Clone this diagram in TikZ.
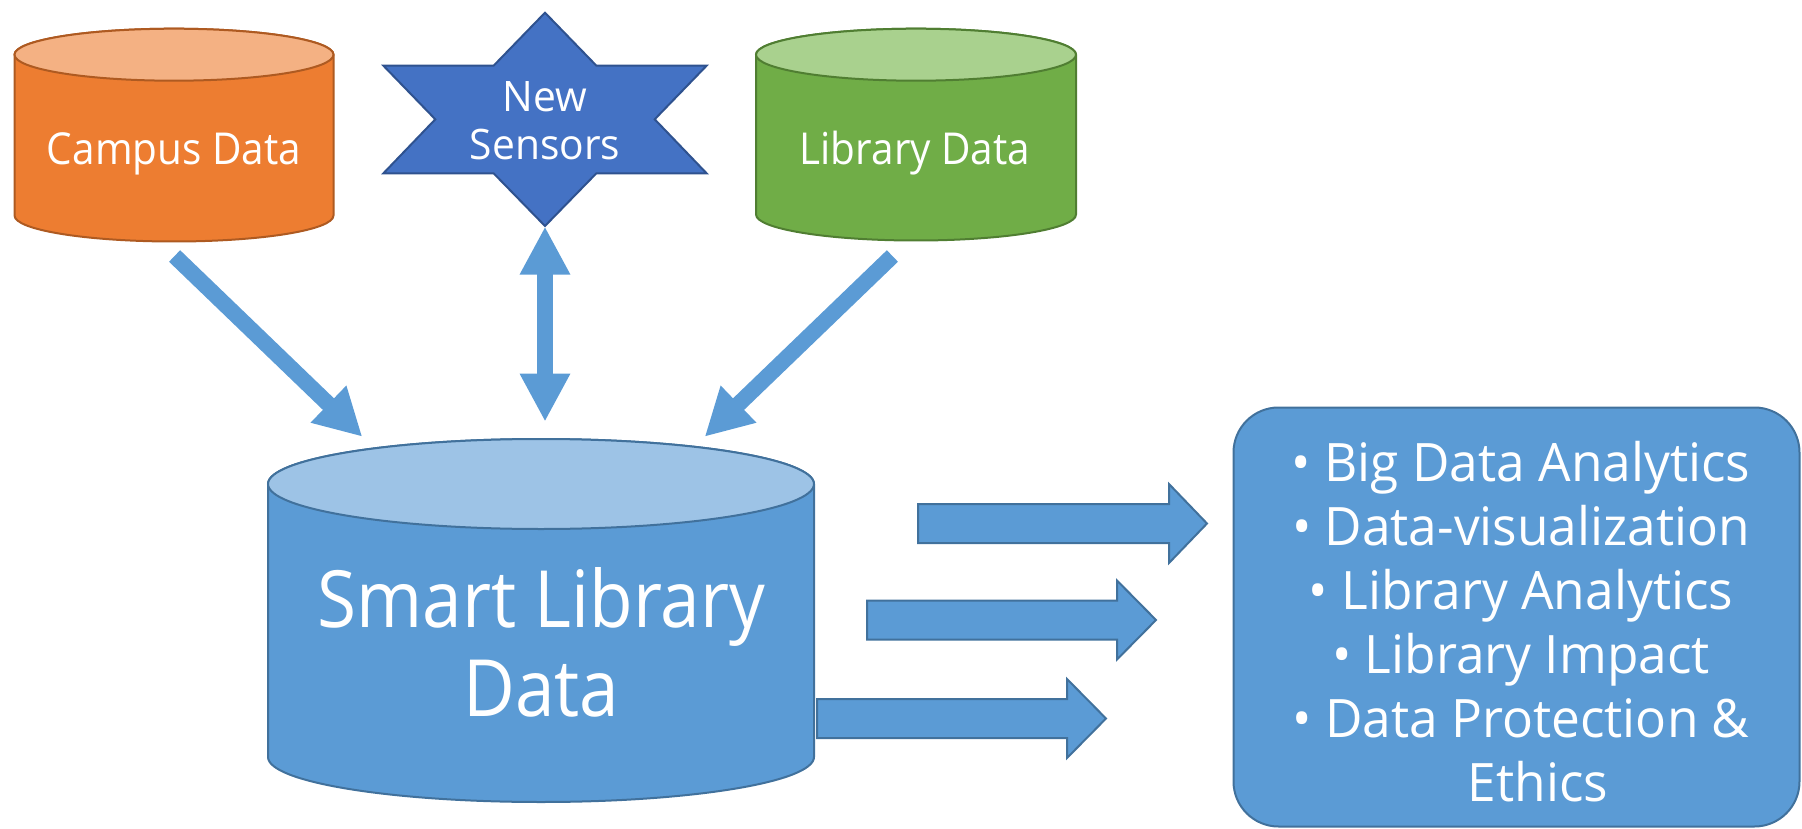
\documentclass[tikz,border=0pt]{standalone}
\usepackage{fontspec}
\setmainfont{Open Sans}[FakeStretch=0.9]
\newfontfamily\cylfont{Open Sans}[FakeStretch=0.92]
\newfontfamily\widefont{Open Sans}[FakeStretch=0.97]
\usetikzlibrary{arrows.meta}
\definecolor{orangeSide}{HTML}{ED7D31}
\definecolor{orangeTop}{HTML}{F4B183}
\definecolor{orangeLine}{HTML}{AE5A21}
\definecolor{greenSide}{HTML}{70AD47}
\definecolor{greenTop}{HTML}{A9D18E}
\definecolor{greenLine}{HTML}{507E32}
\definecolor{blueSide}{HTML}{5B9BD5}
\definecolor{blueTop}{HTML}{9DC3E6}
\definecolor{blueLine}{HTML}{41719C}
\definecolor{starFill}{HTML}{4472C4}
\definecolor{starLine}{HTML}{2F528F}
\newcommand{\drawcyl}[8]{%
  \filldraw[fill=#6, draw=#8, line width=2pt] (#1-#4,#2) -- (#1-#4,#3)
    arc[start angle=180, end angle=360, x radius=#4pt, y radius=#5pt]
    -- (#1+#4,#2)
    arc[start angle=0, end angle=180, x radius=#4pt, y radius=#5pt] -- cycle;
  \filldraw[fill=#7, draw=#8, line width=2pt] (#1,#2) ellipse [x radius=#4pt, y radius=#5pt];
}
\newcommand{\blockarr}[4]{%
  \filldraw[blockstyle] (#1,#2-19.5) -- (#3,#2-19.5) -- (#3,#2-39.5) -- (#4,#2)
    -- (#3,#2+39.5) -- (#3,#2+19.5) -- (#1,#2+19.5) -- cycle;
}
\tikzset{
  lbl/.style={text=white, inner sep=0pt},
  fatarrow/.style={draw=blueSide, line width=16pt, -{Triangle[length=47pt,width=48pt]}},
  fatdouble/.style={draw=blueSide, line width=15.6pt, {Triangle[length=48pt,width=47pt]}-{Triangle[length=48pt,width=47pt]}},
  blockstyle/.style={fill=blueSide, draw=blueLine, line width=2pt},
}
\begin{document}
\begin{tikzpicture}[x=1pt,y=-1pt]
\useasboundingbox (0,0) rectangle (1802,829);

% cylinders
\drawcyl{174}{54.7}{215.5}{159.5}{26}{orangeSide}{orangeTop}{orangeLine}
\drawcyl{916}{54.7}{214.5}{160}{26}{greenSide}{greenTop}{greenLine}
\drawcyl{541}{484}{757}{273}{45}{blueSide}{blueTop}{blueLine}

\node[lbl, anchor=base, font=\cylfont\fontsize{44}{53}\selectfont] (campus) at (174,165) {Campus Data};
\node[lbl, anchor=base, font=\cylfont\fontsize{44}{53}\selectfont] (library) at (915,165) {Library Data};
\node[lbl, align=center, font=\fontsize{79}{89}\selectfont] (smart) at (541.5,642.5) {Smart Library\\Data};

% star
\filldraw[fill=starFill, draw=starLine, line width=2pt]
  (545,12.7) -- (596.4,65.7) -- (706.6,65.7) -- (654.7,119.3) -- (706.6,173.3)
  -- (596.4,173.3) -- (545,226) -- (493.6,173.3) -- (383.4,173.3) -- (435.3,119.3)
  -- (383.4,65.7) -- (493.6,65.7) -- cycle;
\node[lbl, align=center, font=\widefont\fontsize{42}{48}\selectfont] (sensors) at (545,121) {New\\Sensors};

% connectors
\coordinate (cTail) at (174.6,256);
\coordinate (cTip) at (362.3,436.7);
\coordinate (lTail) at (892.4,256);
\coordinate (lTip) at (704.7,436.7);
\coordinate (sTop) at (545,226.5);
\coordinate (sBot) at (545,421.7);
\draw[fatarrow] (cTail) -- (cTip);
\draw[fatarrow] (lTail) -- (lTip);
\draw[fatdouble] (sTop) -- (sBot);

% block arrows
\blockarr{918}{523.5}{1169}{1207}
\blockarr{867}{620}{1117}{1156}
\blockarr{817}{718.5}{1067}{1106}

% result box
\node[draw=blueLine, fill=blueSide, line width=2pt, rounded corners=45pt,
      minimum width=566pt, minimum height=419pt, inner sep=0pt] (box) at (1516.5,617) {};
\node[lbl, align=center, font=\widefont\fontsize{53}{64}\selectfont] (boxtext) at (1521,622)
  {• Big Data Analytics\\• Data-visualization\\• Library Analytics\\• Library Impact\\• Data Protection \&\\\hspace*{34pt}Ethics};
\end{tikzpicture}
\end{document}
